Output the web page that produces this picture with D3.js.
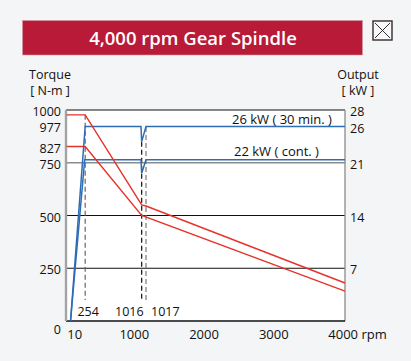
<!DOCTYPE html>
<html>
<head>
<meta charset="utf-8">
<script src="https://cdn.jsdelivr.net/npm/d3@7"></script>
<style>
  html, body { margin: 0; padding: 0; background: #f3f5f7; }
  svg { display: block; font-family: "Open Sans", sans-serif; }
</style>
</head>
<body>
<div id="chart"></div>
<script>
// chart values
const rpmTicks = [10, 1000, 2000, 3000, 4000];
const torqueTicks = [0, 250, 500, 750, 827, 977, 1000];
const outputTicks = [7, 14, 21, 26, 28];
const gridBlack = [250, 500, 1000];
const gridGray = [750];

const torque30 = [[10, 977], [275, 977], [1085, 550], [1147, 545], [4000, 180]];
const torqueCont = [[10, 827], [275, 827], [1085, 500], [4000, 142]];
const output30 = [[65, 0], [275, 25.8], [1075, 25.8], [1085, 23.8], [1147, 25.8], [4000, 25.8]];
const outputCont = [[65, 0], [268, 21.4], [1075, 21.4], [1085, 19.6], [1147, 21.4], [4000, 21.4]];

// dashed speed markers: rpm, label, top (N-m)
const markRpm = [275, 1085, 1147];
const markLabels = ["254", "1016", "1017"];
const markTop = [977, 850, 920];
const markBottom = 100;

const W = 411, H = 361;
const red = "#e5332a", blue = "#2e6db4";
const fs = "12.5px";

const svg = d3.select("#chart").append("svg")
  .attr("width", W).attr("height", H);

svg.append("rect").attr("width", W).attr("height", H).attr("fill", "#f3f5f7");

// title bar
svg.append("rect")
  .attr("x", 22.5).attr("y", 20.5).attr("width", 340).attr("height", 34.5)
  .attr("fill", "#b81a38").attr("stroke", "#d49aa4").attr("stroke-width", 0.6);
svg.append("text")
  .attr("x", 193).attr("y", 44.5)
  .attr("text-anchor", "middle")
  .attr("fill", "#fff")
  .style("font-size", "18.5px").style("font-weight", 600)
  .text("4,000 rpm Gear Spindle");

// close box
const cb = svg.append("g").attr("transform", "translate(373,21)");
cb.append("rect").attr("width", 19).attr("height", 19)
  .attr("fill", "#f8f8f8").attr("stroke", "#3a2a2a").attr("stroke-width", 1.4);
cb.append("line").attr("x1", 2).attr("y1", 2).attr("x2", 17).attr("y2", 17).attr("stroke", "#333");
cb.append("line").attr("x1", 17).attr("y1", 2).attr("x2", 2).attr("y2", 17).attr("stroke", "#333");

// scales
const x = d3.scaleLinear().domain([0, 4000]).range([66, 345]);
const yT = d3.scaleLinear().domain([0, 1000]).range([321, 110]);
const yP = d3.scaleLinear().domain([0, 28]).range([321, 110]);

// plot background
svg.append("rect")
  .attr("x", x(0)).attr("y", yT(1000))
  .attr("width", x(4000) - x(0)).attr("height", yT(0) - yT(1000))
  .attr("fill", "#fff");

// grid
svg.selectAll("line.gridg").data(gridGray).enter().append("line")
  .attr("x1", x(0)).attr("x2", x(4000))
  .attr("y1", d => yT(d)).attr("y2", d => yT(d))
  .attr("stroke", "#8c8c8c").attr("stroke-width", 1.6);
svg.selectAll("line.gridb").data(gridBlack).enter().append("line")
  .attr("x1", x(0)).attr("x2", x(4000))
  .attr("y1", d => yT(d)).attr("y2", d => yT(d))
  .attr("stroke", "#111").attr("stroke-width", 1.2);

// axis lines
svg.append("line")
  .attr("x1", x(4000)).attr("x2", x(4000)).attr("y1", yT(1000)).attr("y2", yT(0))
  .attr("stroke", "#8a8a8a").attr("stroke-width", 1.3);
svg.append("line")
  .attr("x1", x(0)).attr("x2", x(4000)).attr("y1", yT(0)).attr("y2", yT(0))
  .attr("stroke", "#111").attr("stroke-width", 1.4);
svg.append("line")
  .attr("x1", x(0)).attr("x2", x(0)).attr("y1", yT(1000)).attr("y2", yT(0))
  .attr("stroke", "#a3a3a3").attr("stroke-width", 2.4);

// dashed speed markers
const markColors = ["#666", "#111", "#777"];
svg.selectAll("line.mark").data(markRpm).enter().append("line")
  .attr("x1", d => x(d)).attr("x2", d => x(d))
  .attr("y1", (d, i) => yT(markTop[i])).attr("y2", yT(markBottom))
  .attr("stroke", (d, i) => markColors[i])
  .attr("stroke-width", 1.2)
  .attr("stroke-dasharray", "5,3");

const markAnchor = ["middle", "end", "start"];
const markDx = [3, 2, 5];
svg.selectAll("text.mark").data(markRpm).enter().append("text")
  .attr("x", (d, i) => x(d) + markDx[i])
  .attr("y", 316)
  .attr("text-anchor", (d, i) => markAnchor[i])
  .attr("fill", "#111")
  .style("font-size", fs)
  .text((d, i) => markLabels[i]);

// curves
const torqueLine = d3.line().x(d => x(d[0])).y(d => yT(d[1]));
const outputLine = d3.line().x(d => x(d[0])).y(d => yP(d[1]));

[outputCont, output30].forEach(s => {
  svg.append("path").attr("d", outputLine(s))
    .attr("fill", "none").attr("stroke", blue).attr("stroke-width", 1.5);
});
[torqueCont, torque30].forEach(s => {
  svg.append("path").attr("d", torqueLine(s))
    .attr("fill", "none").attr("stroke", red).attr("stroke-width", 1.4);
});

// curve labels
svg.append("text").attr("x", 232).attr("y", yP(output30[5][1]) - 2.5)
  .attr("fill", "#111").style("font-size", "13px").text("26 kW ( 30 min. )");
svg.append("text").attr("x", 234).attr("y", yP(outputCont[5][1]) - 3.5)
  .attr("fill", "#111").style("font-size", "13px").text("22 kW ( cont. )");

// left axis labels
const leftAxis = d3.axisLeft(yT).tickValues(torqueTicks).tickSize(0).tickPadding(5)
  .tickFormat(d3.format("d"));
const gl = svg.append("g").attr("transform", `translate(${x(0)},0)`).call(leftAxis);
gl.select(".domain").remove();
gl.selectAll("text")
  .style("font-size", fs).style("font-family", "Open Sans").attr("fill", "#111")
  .attr("dy", d => d === 0 ? "1.0em" : d === 977 ? "1.35em" : "0.45em");

// right axis labels
const rightAxis = d3.axisRight(yP).tickValues(outputTicks).tickSize(0).tickPadding(5);
const gr = svg.append("g").attr("transform", `translate(${x(4000)},0)`).call(rightAxis);
gr.select(".domain").remove();
gr.selectAll("text")
  .style("font-size", fs).style("font-family", "Open Sans").attr("fill", "#111")
  .attr("dy", d => d === 26 ? "0.6em" : "0.45em");

// bottom axis labels
const bottomAxis = d3.axisBottom(x).tickValues(rpmTicks).tickSize(0).tickPadding(9)
  .tickFormat(d => d === 4000 ? "4000 rpm" : d);
const gb = svg.append("g").attr("transform", `translate(0,${yT(0)})`).call(bottomAxis);
gb.select(".domain").remove();
gb.selectAll("text")
  .style("font-size", "13px").style("font-family", "Open Sans").attr("fill", "#111")
  .attr("text-anchor", d => d === 10 ? "start" : "middle")
  .attr("dx", d => d === 4000 ? "12" : d === 10 ? "0" : "-2");

// axis titles
const titles = svg.append("g").style("font-size", fs).attr("fill", "#111");
titles.append("text").attr("x", 50).attr("y", 79).attr("text-anchor", "middle").text("Torque");
titles.append("text").attr("x", 50).attr("y", 95).attr("text-anchor", "middle").text("[ N-m ]");
titles.append("text").attr("x", 358).attr("y", 79).attr("text-anchor", "middle").text("Output");
titles.append("text").attr("x", 358).attr("y", 95).attr("text-anchor", "middle").text("[ kW ]");
</script>
</body>
</html>
